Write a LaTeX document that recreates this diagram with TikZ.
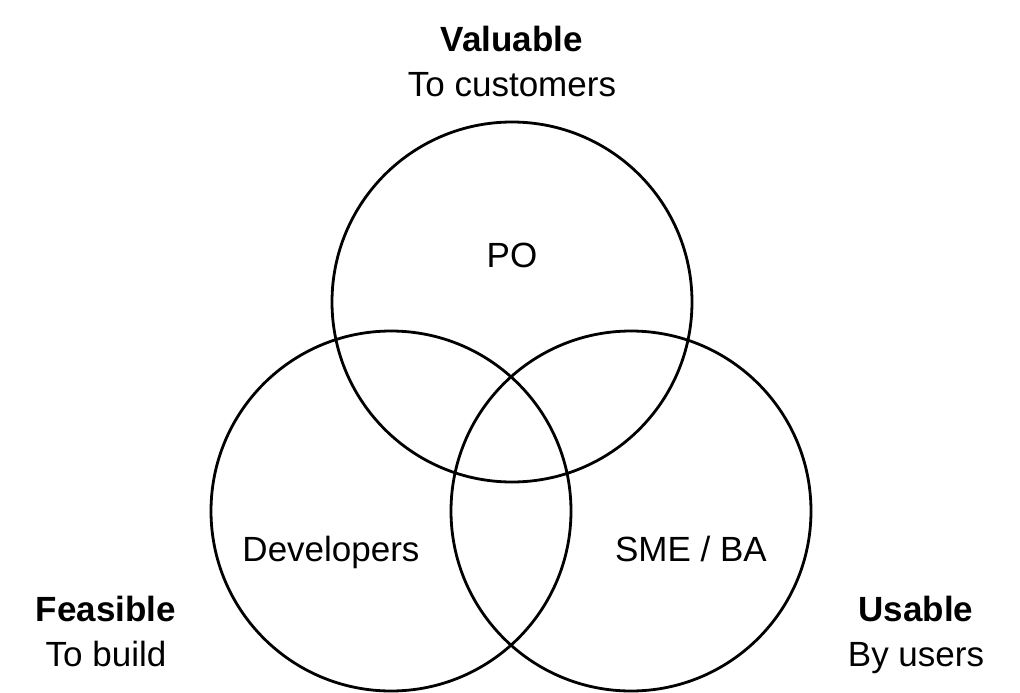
\documentclass[tikz,border=0pt]{standalone}
\usepackage{fontspec}
\setmainfont{Liberation Sans}
\begin{document}
\begin{tikzpicture}[x=1pt,y=-1pt,
  ring/.style={draw=black,line width=2.8pt,circle,minimum size=360pt,inner sep=0pt},
  lbl/.style={font=\fontsize{35}{42}\selectfont,inner sep=0pt,anchor=base},
  setcaption/.style={align=center,inner sep=0pt,anchor=base,font=\fontsize{35}{45}\selectfont}]
\useasboundingbox (0,0) rectangle (1020,693);
% the three overlapping sets
\node[ring] (valuable) at (512,302) {};
\node[ring] (feasible) at (391,511) {};
\node[ring] (usable)   at (631,511) {};
% who owns each set
\node[lbl] (po)  at (512,267) {PO};
\node[lbl] (dev) at (331,561) {Developers};
\node[lbl] (sme) at (691,561) {SME / BA};
% set captions (anchored at the baseline of the second line)
\node[setcaption] (capV) at (512,96) {\textbf{Valuable}\\To customers};
\node[setcaption] (capF) at (106,666) {\textbf{Feasible}\\To build};
\node[setcaption] (capU) at (916,666) {\textbf{Usable}\\By users};
\end{tikzpicture}
\end{document}
